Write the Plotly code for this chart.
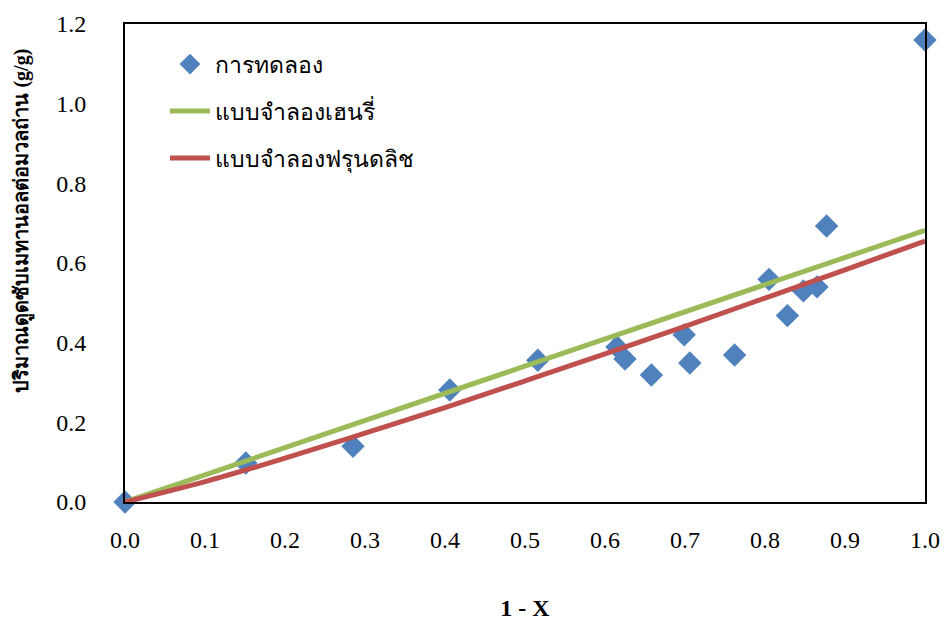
import plotly.graph_objects as go

# Experimental data: 1 - X vs adsorbed methanol per carbon mass (g/g)
exp_x = [0.0, 0.151, 0.285, 0.406, 0.516, 0.615, 0.625, 0.658, 0.699, 0.706,
         0.762, 0.805, 0.828, 0.848, 0.865, 0.877, 1.0]
exp_y = [0.0, 0.098, 0.140, 0.281, 0.356, 0.389, 0.359, 0.319, 0.420, 0.349,
         0.369, 0.559, 0.468, 0.530, 0.540, 0.693, 1.160]

# Henry model line
henry_x = [0.0, 1.0]
henry_y = [0.0, 0.682]

# Freundlich model curve
freund_x = [0.0, 0.1, 0.2, 0.3, 0.4, 0.5, 0.6, 0.7, 0.8, 0.9, 1.0]
freund_y = [0.0, 0.051, 0.110, 0.173, 0.237, 0.304, 0.372, 0.441, 0.512, 0.583, 0.655]

x_ticks = [0.0, 0.1, 0.2, 0.3, 0.4, 0.5, 0.6, 0.7, 0.8, 0.9, 1.0]
y_ticks = [0.0, 0.2, 0.4, 0.6, 0.8, 1.0, 1.2]

names = ["การทดลอง", "แบบจำลองเฮนรี่", "แบบจำลองฟรุนดลิช"]
serif = "Liberation Serif, Times New Roman, Noto Sans, serif"

fig = go.Figure()
fig.add_trace(go.Scatter(x=exp_x, y=exp_y, mode="markers", name=names[0],
                         legendgroup="a",
                         marker=dict(symbol="diamond", size=18, color="#4F81BD"),
                         cliponaxis=False))
fig.add_trace(go.Scatter(x=henry_x, y=henry_y, mode="lines", name=names[1],
                         legendgroup="b",
                         line=dict(color="#9BBB59", width=5)))
fig.add_trace(go.Scatter(x=freund_x, y=freund_y, mode="lines", name=names[2],
                         legendgroup="c",
                         line=dict(color="#C0504D", width=5, shape="spline")))

fig.update_layout(
    width=944, height=621,
    margin=dict(l=125, r=19, t=24, b=119, autoexpand=False),
    paper_bgcolor="white", plot_bgcolor="white",
    font=dict(family=serif, size=24, color="black"),
    showlegend=True,
    legend=dict(x=0.05, y=0.961, xanchor="left", yanchor="top",
                bgcolor="rgba(0,0,0,0)", font=dict(size=23, family=serif),
                tracegroupgap=14, itemwidth=40),
    xaxis=dict(range=[0, 1.0], tickvals=x_ticks,
               ticktext=[f"{v:.1f}" for v in x_ticks],
               showgrid=False, zeroline=False, showline=True, linecolor="black",
               linewidth=2, mirror=True, ticks="", ticklabelstandoff=15,
               automargin=False, ticklabeloverflow="allow",
               title=dict(text="<b>1 - X</b>", font=dict(size=24), standoff=49)),
    yaxis=dict(range=[0, 1.2], tickvals=y_ticks,
               ticktext=[f"{v:.1f}" for v in y_ticks],
               showgrid=False, zeroline=False, showline=True, linecolor="black",
               linewidth=2, mirror=True, ticks="", ticklabelstandoff=32,
               automargin=False, ticklabeloverflow="allow"),
    annotations=[dict(text="<b>ปริมาณดูดซับเมทานอลต่อมวลถ่าน (g/g)</b>",
                      xref="paper", yref="paper", x=-0.128, y=0.588,
                      xanchor="center", yanchor="middle", textangle=-90,
                      showarrow=False, font=dict(size=20, family=serif))],
)

fig.write_html("out.html")
